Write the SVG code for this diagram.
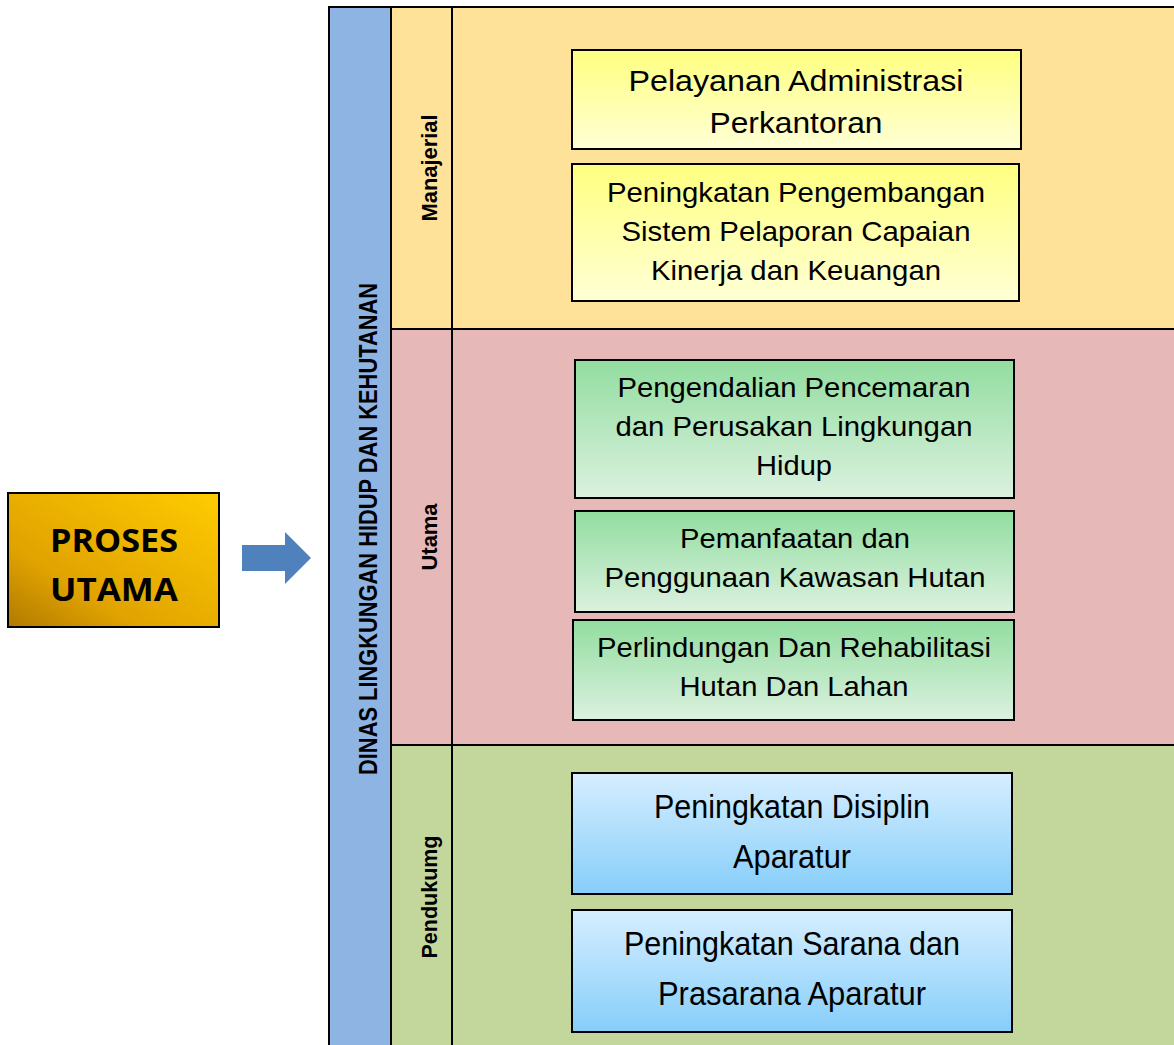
<svg xmlns="http://www.w3.org/2000/svg" width="1174" height="1045" viewBox="0 0 1174 1045">
<defs>
<linearGradient id="gGold" x1="0" y1="1" x2="1" y2="0">
<stop offset="0" stop-color="#B07A00"/>
<stop offset="0.3" stop-color="#E0A200"/>
<stop offset="1" stop-color="#FFCC00"/>
</linearGradient>
<linearGradient id="gYel" x1="0" y1="0" x2="0" y2="1">
<stop offset="0" stop-color="#FFFF80"/>
<stop offset="1" stop-color="#FFFFD6"/>
</linearGradient>
<linearGradient id="gGrn" x1="0" y1="0" x2="0" y2="1">
<stop offset="0" stop-color="#92DDA0"/>
<stop offset="1" stop-color="#DCF1DF"/>
</linearGradient>
<linearGradient id="gBlu" x1="0" y1="0" x2="0" y2="1">
<stop offset="0" stop-color="#D6EEFF"/>
<stop offset="1" stop-color="#86CEFA"/>
</linearGradient>
</defs>
<style>
.box{stroke:#000;stroke-width:2}
.t{font-family:"Liberation Sans",Arial,sans-serif;fill:#000;text-anchor:middle}
.tb{font-family:"Liberation Sans",Arial,sans-serif;font-weight:bold;fill:#000;text-anchor:middle}
.ln{stroke:#000;stroke-width:2;fill:none}
</style>
<rect width="1174" height="1045" fill="#fff"/>
<g id="bands">
<rect x="329" y="7" width="62" height="1040" fill="#8EB4E3"/>
<rect x="391" y="7" width="785" height="322" fill="#FFE299"/>
<rect x="391" y="329" width="785" height="416" fill="#E6B8B7"/>
<rect x="391" y="745" width="785" height="302" fill="#C3D69B"/>
<path class="ln" d="M329,1046 V7 H1176 M391,7 V1046 M452,7 V1046 M391,329 H1176 M391,745 H1176"/>
<text class="tb" transform="translate(377,529) rotate(-90)" font-size="25" textLength="492" lengthAdjust="spacingAndGlyphs">DINAS LINGKUNGAN HIDUP DAN KEHUTANAN</text>
<text class="tb" transform="translate(437,168) rotate(-90)" font-size="22" textLength="107" lengthAdjust="spacingAndGlyphs">Manajerial</text>
<text class="tb" transform="translate(437,537) rotate(-90)" font-size="22" textLength="67" lengthAdjust="spacingAndGlyphs">Utama</text>
<text class="tb" transform="translate(437,897) rotate(-90)" font-size="22" textLength="123" lengthAdjust="spacingAndGlyphs">Pendukumg</text>
</g>
<g id="proses">
<rect class="box" x="8" y="493" width="211" height="134" fill="url(#gGold)"/>
<text class="tb" style="font-family:'Open Sans','Liberation Sans',sans-serif" font-size="33" x="114" y="552" textLength="128" lengthAdjust="spacingAndGlyphs">PROSES</text>
<text class="tb" style="font-family:'Open Sans','Liberation Sans',sans-serif" font-size="33" x="114" y="601" textLength="128" lengthAdjust="spacingAndGlyphs">UTAMA</text>
</g>
<g id="connectors">
<polygon points="242,545 285,545 285,532 311,558 285,584 285,571 242,571" fill="#4F81BD"/>
</g>
<g id="n1">
<rect class="box" x="572" y="50" width="449" height="99" fill="url(#gYel)"/>
<text class="t" font-size="30" x="796" y="91" textLength="335" lengthAdjust="spacingAndGlyphs">Pelayanan Administrasi</text>
<text class="t" font-size="30" x="796" y="133" textLength="173" lengthAdjust="spacingAndGlyphs">Perkantoran</text>
</g>
<g id="n2">
<rect class="box" x="572" y="164" width="447" height="137" fill="url(#gYel)"/>
<text class="t" font-size="28" x="796" y="202" textLength="378" lengthAdjust="spacingAndGlyphs">Peningkatan Pengembangan</text>
<text class="t" font-size="28" x="796" y="241" textLength="349" lengthAdjust="spacingAndGlyphs">Sistem Pelaporan Capaian</text>
<text class="t" font-size="28" x="796" y="280" textLength="290" lengthAdjust="spacingAndGlyphs">Kinerja dan Keuangan</text>
</g>
<g id="n3">
<rect class="box" x="575" y="360" width="439" height="138" fill="url(#gGrn)"/>
<text class="t" font-size="28" x="794" y="397" textLength="353" lengthAdjust="spacingAndGlyphs">Pengendalian Pencemaran</text>
<text class="t" font-size="28" x="794" y="436" textLength="357" lengthAdjust="spacingAndGlyphs">dan Perusakan Lingkungan</text>
<text class="t" font-size="28" x="794" y="475" textLength="76" lengthAdjust="spacingAndGlyphs">Hidup</text>
</g>
<g id="n4">
<rect class="box" x="575" y="511" width="439" height="101" fill="url(#gGrn)"/>
<text class="t" font-size="28" x="795" y="548" textLength="230" lengthAdjust="spacingAndGlyphs">Pemanfaatan dan</text>
<text class="t" font-size="28" x="795" y="587" textLength="381" lengthAdjust="spacingAndGlyphs">Penggunaan Kawasan Hutan</text>
</g>
<g id="n5">
<rect class="box" x="573" y="620" width="441" height="100" fill="url(#gGrn)"/>
<text class="t" font-size="28" x="794" y="657" textLength="394" lengthAdjust="spacingAndGlyphs">Perlindungan Dan Rehabilitasi</text>
<text class="t" font-size="28" x="794" y="696" textLength="229" lengthAdjust="spacingAndGlyphs">Hutan Dan Lahan</text>
</g>
<g id="n6">
<rect class="box" x="572" y="773" width="440" height="121" fill="url(#gBlu)"/>
<text class="t" font-size="34" x="792" y="818" textLength="276" lengthAdjust="spacingAndGlyphs">Peningkatan Disiplin</text>
<text class="t" font-size="34" x="792" y="868" textLength="118" lengthAdjust="spacingAndGlyphs">Aparatur</text>
</g>
<g id="n7">
<rect class="box" x="572" y="910" width="440" height="122" fill="url(#gBlu)"/>
<text class="t" font-size="34" x="792" y="955" textLength="336" lengthAdjust="spacingAndGlyphs">Peningkatan Sarana dan</text>
<text class="t" font-size="34" x="792" y="1005" textLength="268" lengthAdjust="spacingAndGlyphs">Prasarana Aparatur</text>
</g>
</svg>
